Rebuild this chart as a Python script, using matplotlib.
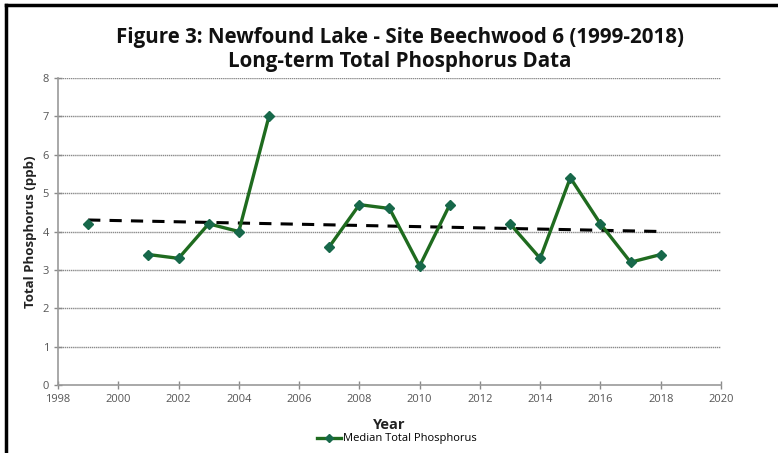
import matplotlib
matplotlib.use("Agg")
import matplotlib.pyplot as plt
import numpy as np
from matplotlib.lines import Line2D

years = [1999, 2000, 2001, 2002, 2003, 2004, 2005, 2006, 2007, 2008, 2009,
         2010, 2011, 2012, 2013, 2014, 2015, 2016, 2017, 2018]
median_tp = [4.2, np.nan, 3.4, 3.3, 4.2, 4.0, 7.0, np.nan, 3.6, 4.7, 4.6,
             3.1, 4.7, np.nan, 4.2, 3.3, 5.4, 4.2, 3.2, 3.4]
trend_years = [1999, 2018]
trend_values = [4.3, 4.0]
x_ticks = list(range(1998, 2021, 2))
y_ticks = list(range(0, 9))

plt.rcParams['font.family'] = ['Open Sans', 'DejaVu Sans']

fig = plt.figure(figsize=(7.78, 4.53), dpi=100)
ax = fig.add_axes([58/778, 1-385/453, (721-58)/778, (385-78)/453])

for y in y_ticks[1:]:
    ax.axhline(y, color='#8a8a8a', lw=1.0, ls=(0, (1, 0.5)), zorder=1)

ax.plot(trend_years, trend_values, color='black', lw=2.2, ls=(0, (4, 3)), zorder=2)
ax.plot(years, median_tp, color='#1f6b1f', lw=2.4, marker='D', ms=5.5,
        mfc='#17684a', mec='#17684a', zorder=3)

ax.set_xlim(1998, 2020)
ax.set_ylim(0, 8)
ax.set_xticks(x_ticks)
ax.set_yticks(y_ticks)
ax.tick_params(axis='both', colors='#8a8a8a', labelcolor='#555555', labelsize=8,
               direction='inout', length=6, width=1)
for s in ['top', 'right']:
    ax.spines[s].set_visible(False)
for s in ['left', 'bottom']:
    ax.spines[s].set_color('#9a9a9a')
    ax.spines[s].set_linewidth(1.2)

ax.set_xlabel('Year', fontsize=10.5, fontweight='bold', color='#222222', labelpad=9)
ax.set_ylabel('Total Phosphorus (ppb)', fontsize=9.5, fontweight='bold', color='#222222', labelpad=4)

fig.text(400/778, 1-37/453, 'Figure 3: Newfound Lake - Site Beechwood 6 (1999-2018)',
         ha='center', va='center', fontsize=14.8, fontweight='bold', color='#111111')
fig.text(400/778, 1-62/453, 'Long-term Total Phosphorus Data',
         ha='center', va='center', fontsize=14.8, fontweight='bold', color='#111111')

handle = Line2D([], [], color='#1f6b1f', lw=2.4, marker='D', ms=4,
                mfc='#17684a', mec='#17684a')
fig.legend([handle], ['Median Total Phosphorus'], loc='center',
           bbox_to_anchor=(397/778, 1-439/453), frameon=False, fontsize=8,
           handlelength=2.2, handletextpad=0.2)

fig.add_artist(Line2D([6/778, 6/778], [0, 1-5/453], color='black', lw=2.5,
                      transform=fig.transFigure))
fig.add_artist(Line2D([6/778, 1], [1-5/453, 1-5/453], color='black', lw=2.5,
                      transform=fig.transFigure))

fig.savefig('out.png', dpi=100)
